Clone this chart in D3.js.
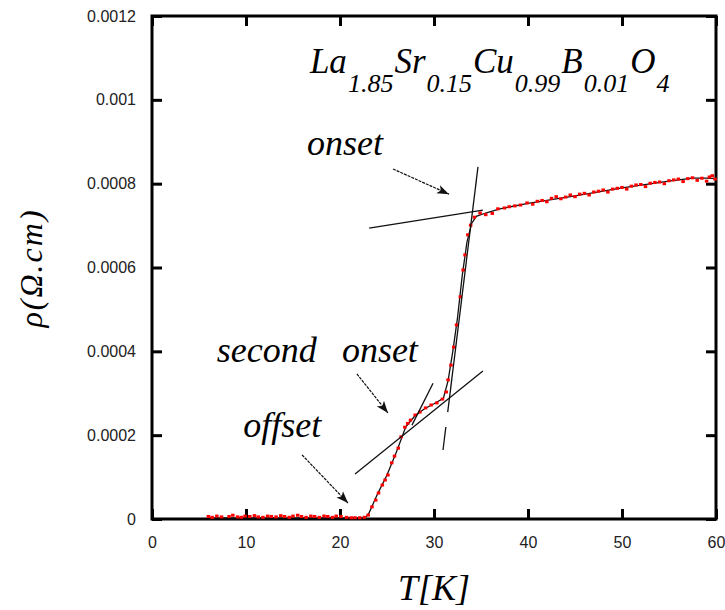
<!DOCTYPE html>
<html>
<head>
<meta charset="utf-8">
<script src="https://cdn.jsdelivr.net/npm/d3@7"></script>
<style>
body { margin: 0; background: #fff; }
</style>
</head>
<body>
<script>
// ticks
var xTicks = [0, 10, 20, 30, 40, 50, 60];
var yTicks = [0, 0.0002, 0.0004, 0.0006, 0.0008, 0.001, 0.0012];
var yTickLabels = ["0", "0.0002", "0.0004", "0.0006", "0.0008", "0.001", "0.0012"];

// measured points (red)
var tempPts = [6.0, 6.4, 6.9, 7.4, 8.2, 8.6, 9.1, 9.5, 9.9, 10.4, 10.9, 11.3, 11.8, 12.3, 12.7, 13.2, 13.7, 14.1, 14.6, 15.0,
	15.5, 15.9, 16.4, 16.9, 17.3, 17.8, 18.3, 18.7, 19.2, 19.6, 20.1, 20.7, 21.2, 21.6, 22.1, 22.6,
	23.0, 23.4, 23.8, 24.1, 24.5, 24.8, 25.1, 25.5, 25.8, 26.2, 26.5, 26.9, 27.2, 27.5, 28.0, 28.5, 29.1, 29.7, 30.3, 30.9,
	31.3, 31.5, 31.8, 32.1, 32.4, 32.8, 33.1, 33.3, 33.6, 33.9, 34.3, 34.9, 35.5, 36.2, 36.8, 37.5, 38.0, 38.6, 39.2, 39.9,
	40.5, 41.0, 41.5, 42.0, 42.5, 43.0, 43.5, 44.0, 44.5, 45.0, 45.5, 46.0, 46.5, 47.0, 47.5, 48.0, 48.5, 49.0, 49.5, 50.0,
	50.5, 51.0, 51.5, 52.0, 52.5, 53.0, 53.5, 54.0, 54.5, 55.0, 55.5, 56.0, 56.5, 57.0, 57.5, 58.0, 58.5, 59.0, 59.3, 59.6, 59.9];
var rhoPts = [0.000006, 0.000004, 0.000007, 0.000005, 0.000006, 0.000009, 0.000005, 0.000004, 0.000007, 0.000006, 0.000008, 0.000005, 0.000004, 0.000007, 0.000006, 0.000005, 0.000008, 0.000006, 0.000004, 0.000007,
	0.000009, 0.000006, 0.000004, 0.000007, 0.000006, 0.000004, 0.000007, 0.000006, 0.000004, 0.000007, 0.000006, 0.000004, 0.000003, 0.000003, 0.000003, 0.000004,
	0.0000095, 0.000029, 0.000045, 0.000062, 0.000081, 0.000093, 0.000105, 0.000134, 0.000150, 0.000169, 0.000196, 0.000219, 0.000228, 0.000236, 0.000248, 0.000255, 0.000265, 0.000272, 0.000277, 0.000286,
	0.000303, 0.000332, 0.000367, 0.000410, 0.000463, 0.000530, 0.000594, 0.000630, 0.000678, 0.000701, 0.000720, 0.000730, 0.000726, 0.000729, 0.000740, 0.000742, 0.000745, 0.000747, 0.000749, 0.000754,
	0.000751, 0.000758, 0.000760, 0.000757, 0.000765, 0.000769, 0.000764, 0.000768, 0.000773, 0.000769, 0.000775, 0.000777, 0.000773, 0.000780, 0.000782, 0.000785, 0.000780, 0.000787, 0.000789, 0.000791,
	0.000787, 0.000794, 0.000797, 0.000798, 0.000793, 0.000801, 0.000803, 0.000804, 0.000800, 0.000807, 0.000809, 0.000811, 0.000805, 0.000812, 0.000814, 0.000808, 0.000813, 0.000806, 0.000816, 0.000819, 0.000811];

// smoothed curve (black)
var tempLine = [6, 22.6, 23.0, 24.0, 25.0, 26.0, 27.0, 28.0, 29.0, 30.0, 31.0, 31.5, 32.0, 32.5, 33.0, 33.5, 34.0, 34.5, 35.5, 37.0, 40, 45, 50, 55, 57.5, 59, 60];
var rhoLine = [0.0000025, 0.0000025, 0.00001, 0.00006, 0.000105, 0.00016, 0.00022, 0.000247, 0.000263, 0.000275, 0.000288, 0.00033, 0.0004, 0.00048, 0.00058, 0.00066, 0.000705, 0.000722, 0.00073, 0.00074, 0.000753, 0.000771, 0.00079, 0.000806, 0.000813, 0.000813, 0.000812];

// tangent lines [T1, rho1, T2, rho2]
var fitLines = [
	[23.1, 0.000694, 35.2, 0.000737],   // normal state
	[34.68, 0.00084, 31.46, 0.000255],  // steep transition
	[31.26, 0.0002195, 30.96, 0.0001646],
	[21.6, 0.0001074, 35.2, 0.000353],  // second onset
	[29.9, 0.000324, 27.66, 0.000224]
];

// arrows [T1, rho1, T2, rho2]
var arrows = [
	[25.64, 0.000835, 31.6, 0.000775],
	[21.8, 0.000346, 25.1, 0.000253],
	[15.96, 0.000153, 20.85, 0.0000382]
];
var noteText = ["onset", "second", "onset", "offset"];
var noteT = [16.5, 6.9, 20.2, 9.7];
var noteRho = [0.000868, 0.000374, 0.000374, 0.000196];

var width = 725, height = 610;
var svg = d3.select("body").append("svg")
	.attr("width", width)
	.attr("height", height);

var x = d3.scaleLinear().domain([0, 60]).range([152, 716]);
var y = d3.scaleLinear().domain([0, 0.0012]).range([519, 16]);

svg.append("defs").append("marker")
	.attr("id", "arr")
	.attr("markerUnits", "userSpaceOnUse")
	.attr("viewBox", "-12 -5 14 10")
	.attr("markerWidth", 14)
	.attr("markerHeight", 10)
	.attr("refX", 0)
	.attr("refY", 0)
	.attr("orient", "auto")
	.append("path")
	.attr("d", "M-12,-4.5L0,0L-12,4.5L-9,0Z")
	.attr("fill", "#111");

// axes
var gx = svg.append("g").attr("transform", "translate(0,519)")
	.call(d3.axisBottom(x).tickValues(xTicks).tickSize(-10).tickSizeOuter(0).tickPadding(18));
var gy = svg.append("g").attr("transform", "translate(152,0)")
	.call(d3.axisLeft(y).tickValues(yTicks).tickSize(-10).tickSizeOuter(0).tickPadding(16)
		.tickFormat(function (d, i) { return yTickLabels[i]; }));
var gt = svg.append("g").attr("transform", "translate(0,16)")
	.call(d3.axisTop(x).tickValues(xTicks).tickSize(-10).tickSizeOuter(0).tickFormat(""));
var gr = svg.append("g").attr("transform", "translate(716,0)")
	.call(d3.axisRight(y).tickValues(yTicks).tickSize(-10).tickSizeOuter(0).tickFormat(""));

[gx, gy, gt, gr].forEach(function (g) {
	g.select(".domain").remove();
	g.selectAll(".tick line").attr("stroke", "#000").attr("stroke-width", 3);
	g.selectAll(".tick text")
		.attr("font-family", "Liberation Sans, Arial, sans-serif")
		.attr("font-size", "16px")
		.attr("fill", "#222");
});

svg.append("rect")
	.attr("x", 152)
	.attr("y", 16)
	.attr("width", 716 - 152)
	.attr("height", 519 - 16)
	.attr("fill", "none")
	.attr("stroke", "#000")
	.attr("stroke-width", 3);

// data
var lineData = tempLine.map(function (t, i) { return [t, rhoLine[i]]; });
svg.append("path")
	.attr("d", d3.line().x(function (d) { return x(d[0]); }).y(function (d) { return y(d[1]); })(lineData))
	.attr("fill", "none")
	.attr("stroke", "#111")
	.attr("stroke-width", 1.3);

svg.selectAll(".pt")
	.data(tempPts)
	.enter().append("rect")
	.attr("class", "pt")
	.attr("x", function (d) { return x(d) - 1.75; })
	.attr("y", function (d, i) { return y(rhoPts[i]) - 1.5; })
	.attr("width", 3.5)
	.attr("height", 3)
	.attr("fill", "#f00");

svg.selectAll(".fit")
	.data(fitLines)
	.enter().append("line")
	.attr("class", "fit")
	.attr("x1", function (d) { return x(d[0]); })
	.attr("y1", function (d) { return y(d[1]); })
	.attr("x2", function (d) { return x(d[2]); })
	.attr("y2", function (d) { return y(d[3]); })
	.attr("stroke", "#111")
	.attr("stroke-width", 1.3);

svg.selectAll(".arrow")
	.data(arrows)
	.enter().append("line")
	.attr("class", "arrow")
	.attr("x1", function (d) { return x(d[0]); })
	.attr("y1", function (d) { return y(d[1]); })
	.attr("x2", function (d) { return x(d[2]); })
	.attr("y2", function (d) { return y(d[3]); })
	.attr("stroke", "#111")
	.attr("stroke-width", 1.2)
	.attr("stroke-dasharray", "3,1")
	.attr("marker-end", "url(#arr)");

svg.selectAll(".note")
	.data(noteText)
	.enter().append("text")
	.attr("class", "note")
	.attr("x", function (d, i) { return x(noteT[i]); })
	.attr("y", function (d, i) { return y(noteRho[i]); })
	.attr("font-family", "Liberation Serif, serif")
	.attr("font-style", "italic")
	.attr("font-size", "36px")
	.attr("fill", "#000")
	.text(function (d) { return d; });

// formula
var formula = svg.append("text")
	.attr("x", x(16.8))
	.attr("y", y(0.001064))
	.attr("font-family", "Liberation Serif, serif")
	.attr("font-style", "italic")
	.attr("font-size", "35px")
	.attr("fill", "#000");
var parts = [["La", "1.85"], ["Sr", "0.15"], ["Cu", "0.99"], ["B", "0.01"], ["O", "4"]];
parts.forEach(function (p, i) {
	formula.append("tspan").attr("dy", i === 0 ? 0 : -19).attr("dx", i === 0 ? 0 : 1).text(p[0]);
	formula.append("tspan").attr("dy", 19).attr("dx", 1).attr("font-size", "26px").text(p[1]);
});

// axis titles
svg.append("text")
	.attr("transform", "translate(42,268) rotate(-90)")
	.attr("text-anchor", "middle")
	.attr("font-family", "Liberation Serif, serif")
	.attr("font-style", "italic")
	.attr("font-size", "32px")
	.attr("letter-spacing", "2px")
	.text("ρ(Ω.cm)");

svg.append("text")
	.attr("x", x(30))
	.attr("y", 600)
	.attr("text-anchor", "middle")
	.attr("font-family", "Liberation Serif, serif")
	.attr("font-style", "italic")
	.attr("font-size", "36px")
	.text("T[K]");
</script>
</body>
</html>
